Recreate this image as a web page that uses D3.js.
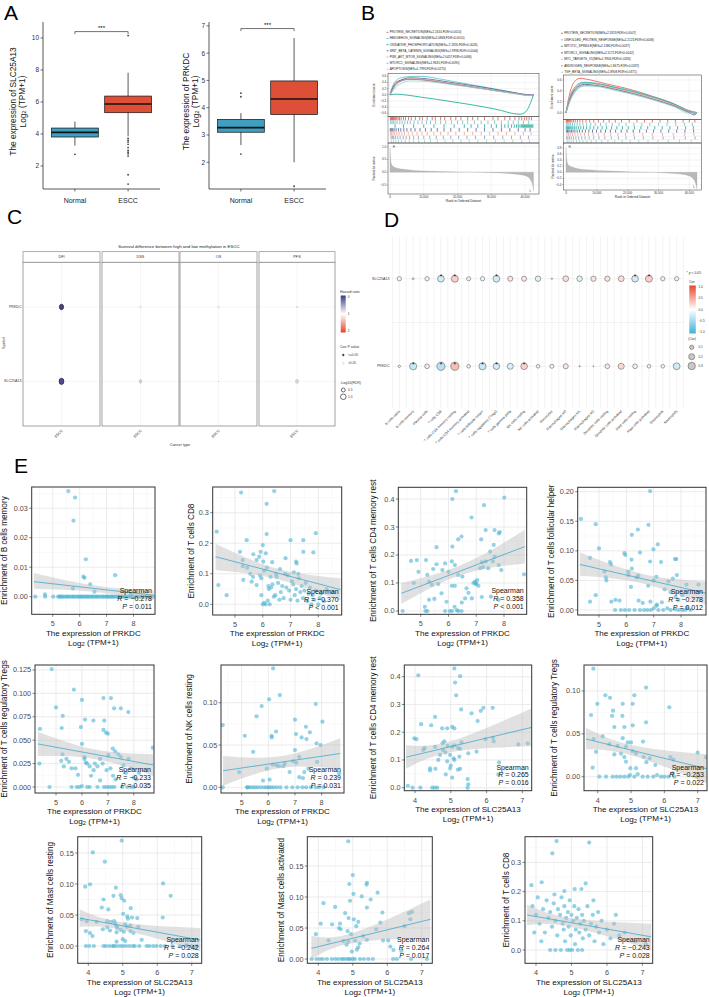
<!DOCTYPE html>
<html><head><meta charset="utf-8">
<script src="https://cdn.jsdelivr.net/npm/d3@7"></script>
<style>body{margin:0;background:#fff}svg{display:block}text{font-family:"Liberation Sans",Arial,sans-serif}</style>
</head><body><svg id="fig" width="709" height="997"></svg>
<script>
// ================= DATA =================
// ---- Panel A (boxplots) ----
const boxCats = ["Normal","ESCC"];
const slcBox = [{q1:3.81,med:4.10,q3:4.37,lo:3.27,hi:4.77},{q1:5.33,med:5.87,q3:6.37,lo:3.85,hi:7.83}];
const slcOut = [[2.73],[10.15,3.72,3.6,3.5,3.35,3.15,2.97,2.86,2.76,2.62,1.45,0.87]];
const prkBox = [{q1:3.10,med:3.27,q3:3.57,lo:2.63,hi:3.80},{q1:3.75,med:4.32,q3:4.98,lo:2.0,hi:6.55}];
const prkOut = [[4.53,4.40,2.30],[1.12]];
const slcTicks = [2,4,6,8,10];
const prkTicks = [2,3,4,5,6,7];
const sigLabel = ["***","***"];
const sigLevel = [10.4,6.9];

// ---- Panel B (GSEA) ----
const gseaColors = ["#E64B35","#4DBBD5","#00A087","#3C5488","#F39B7F","#8491B4","#91D1C2"];
const leftTerms = ["PROTEIN_SECRETION(NES=2.1610,FDR<0.0010)","HEDGEHOG_SIGNALING(NES=2.0868,FDR<0.0010)","OXIDATIVE_PHOSPHORYLATION(NES=-2.1926,FDR<0.0026)","WNT_BETA_CATENIN_SIGNALING(NES=1.9996,FDR<0.0044)","PI3K_AKT_MTOR_SIGNALING(NES=2.0457,FDR<0.0066)","MTORC1_SIGNALING(NES=1.9631,FDR<0.0090)","APOPTOSIS(NES=1.7993,FDR<0.0270)"];
const rightTerms = ["PROTEIN_SECRETION(NES=2.3319,FDR<0.0007)","UNFOLDED_PROTEIN_RESPONSE(NES=2.2123,FDR<0.0008)","MITOTIC_SPINDLE(NES=2.1386,FDR<0.0037)","MTORC1_SIGNALING(NES=2.1172,FDR<0.0042)","MYC_TARGETS_V1(NES=1.9903,FDR<0.0326)","ANDROGEN_RESPONSE(NES=1.8675,FDR<0.0337)","TGF_BETA_SIGNALING(NES=1.8908,FDR<0.0371)"];
const esLeft = [
 [[0,0],[1,0.3],[2.5,0.45],[5,0.5],[8,0.5],[12,0.45],[18,0.35],[25,0.24],[32,0.12],[38,0.03],[41,-0.02],[42.5,0]],
 [[0,0],[0.5,0.2],[1.5,0.42],[3,0.54],[6,0.59],[9.4,0.6],[14,0.53],[19.3,0.42],[24,0.33],[29.1,0.23],[34,0.13],[37,0.06],[40,0.01],[42.5,0]],
 [[0,0],[2,0.02],[5,-0.01],[9.4,-0.08],[14,-0.15],[19.3,-0.24],[24,-0.32],[29.1,-0.42],[33,-0.51],[36,-0.6],[38.5,-0.63],[40.2,-0.55],[41.3,-0.35],[42,-0.15],[42.5,0]],
 [[0,0],[1,0.25],[3,0.46],[6,0.55],[9,0.54],[14,0.47],[20,0.37],[26,0.27],[32,0.16],[37,0.07],[41,0.0],[42.5,0]],
 [[0,0],[1,0.2],[3,0.42],[6,0.52],[9,0.51],[14,0.44],[20,0.34],[26,0.24],[32,0.13],[37,0.05],[41,-0.01],[42.5,0]],
 [[0,0],[1,0.22],[3,0.44],[6,0.5],[10,0.48],[15,0.41],[21,0.31],[27,0.21],[33,0.11],[38,0.03],[42.5,0]],
 [[0,0],[1,0.15],[3,0.35],[6,0.45],[10,0.44],[15,0.38],[21,0.29],[27,0.2],[33,0.1],[38,0.02],[41,-0.03],[42.5,0]]
];
const esRight = [
 [[0,0],[1,0.3],[2.5,0.55],[4.5,0.63],[8,0.6],[13,0.53],[20,0.44],[27,0.32],[33,0.2],[38,0.08],[41,0.0],[42,-0.02],[42.5,0]],
 [[0,0],[1,0.25],[3,0.48],[5.5,0.56],[9,0.55],[15,0.48],[21,0.41],[28,0.3],[34,0.19],[39,0.06],[42.5,0]],
 [[0,0],[1,0.22],[3,0.45],[6,0.55],[10,0.53],[16,0.46],[22,0.38],[29,0.27],[35,0.16],[40,0.03],[42.5,0]],
 [[0,0],[1,0.2],[3,0.43],[6,0.52],[10,0.5],[16,0.43],[22,0.35],[29,0.24],[35,0.13],[40,0.0],[41.5,-0.04],[42.5,0]],
 [[0,0],[1,0.24],[3,0.47],[5,0.54],[9,0.53],[15,0.46],[21,0.38],[28,0.28],[34,0.17],[39,0.05],[42.5,0]],
 [[0,0],[1,0.18],[3,0.4],[6,0.5],[10,0.49],[16,0.42],[22,0.34],[29,0.23],[35,0.12],[40,0.01],[42.5,0]],
 [[0,0],[1,0.17],[3,0.38],[6,0.49],[10,0.48],[16,0.41],[22,0.33],[29,0.22],[35,0.11],[40,-0.01],[42.5,0]]
];
const hitsLeft = [
 [0.1,0.3,0.5,0.7,0.9,1.1,1.4,1.7,2.0,2.4,2.8,3.3,4.0,4.6,5.5,6.3,7.5,8.8,9.6,11,12.5,13.4,15,16.2,18,19.5,21,23,24.5,26,28,30.5,32,34,35.5,37,38.2,39,39.8,40.5,41.2,41.9],
 [0.2,0.6,1.0,1.5,2.1,2.9,3.6,4.4,5.2,6.0,7.1,8.3,9.5,10.8,12,13.5,15,16.5,18.2,20,21.5,23,25,27,29,31,33,35,36.5,38,39.5,41],
 [1.5,4,7,10,13,16,19,22,24,26,28,30,31.5,33,34,35,36,36.8,37.5,38,38.5,39,39.3,39.6,39.9,40.2,40.5,40.8,41.1,41.4,41.7,42,42.3],
 [0.1,0.4,0.8,1.2,1.8,2.5,3.2,4.1,5,6.2,7.4,8.9,10.5,12.2,14,16,18,20.5,23,25.5,28,30.5,33,35.5,38,40,41.5],
 [0.2,0.5,0.9,1.4,2.0,2.7,3.5,4.3,5.4,6.6,8,9.5,11,13,15,17.2,19.5,22,24.5,27,29.5,32,34.5,37,39.5,41.8],
 [0.3,0.7,1.1,1.6,2.3,3.0,3.9,4.8,5.8,7,8.4,10,11.8,13.7,15.8,18,20.3,22.8,25.3,28,30.7,33.4,36,38.6,41],
 [0.4,1.0,1.7,2.5,3.4,4.5,5.7,7,8.5,10.2,12,14,16.3,18.6,21,23.5,26,28.6,31.2,33.8,36.4,39,41.3]
];
const hitsRight = [
 [0.1,0.3,0.5,0.8,1.1,1.5,1.9,2.4,3.0,3.7,4.5,5.4,6.5,7.7,9,10.5,12.2,14,16,18,20.5,23,25.5,28,30.5,33,35.5,38,40,41.8],
 [0.2,0.6,1.0,1.5,2.1,2.8,3.6,4.5,5.5,6.7,8,9.5,11.2,13,15,17.2,19.5,22,24.6,27.2,30,32.8,35.6,38.4,41],
 [0.1,0.4,0.7,1.0,1.3,1.7,2.2,2.7,3.3,4.0,4.8,5.7,6.7,7.8,9,10.3,11.7,13.2,14.8,16.5,18.3,20.2,22.2,24.3,26.5,28.8,31.2,33.7,36.2,38.8,41.3],
 [0.2,0.5,0.9,1.3,1.8,2.3,2.9,3.6,4.4,5.3,6.3,7.4,8.6,9.9,11.3,12.8,14.4,16.1,17.9,19.8,21.8,23.9,26.1,28.4,30.8,33.3,35.9,38.6,41.4],
 [0.3,0.8,1.4,2.1,2.9,3.8,4.8,6,7.3,8.8,10.5,12.4,14.5,16.8,19.3,22,24.9,28,31.3,34.8,38.5,41.5],
 [0.2,0.6,1.1,1.7,2.4,3.2,4.1,5.1,6.2,7.5,9,10.7,12.6,14.7,17,19.5,22.2,25.1,28.2,31.5,35,38.7,41.9],
 [0.4,1.0,1.7,2.5,3.4,4.4,5.5,6.8,8.2,9.8,11.6,13.6,15.8,18.2,20.8,23.6,26.6,29.8,33.2,36.8,40.6]
];
const metricLeft = [[0,0.95],[0.2,0.5],[0.5,0.3],[1,0.22],[2,0.16],[4,0.11],[7,0.07],[10,0.05],[15,0.03],[20,0.01],[25,0],[30,-0.02],[35,-0.05],[38,-0.09],[40,-0.14],[41,-0.2],[41.8,-0.35],[42.3,-0.55],[42.5,-0.75]];
const metricRight = [[0,0.8],[0.2,0.45],[0.5,0.3],[1,0.22],[2,0.17],[4,0.12],[7,0.08],[10,0.06],[15,0.04],[20,0.02],[25,0.01],[30,-0.01],[35,-0.04],[38,-0.07],[40,-0.12],[41,-0.18],[41.8,-0.3],[42.3,-0.45],[42.5,-0.55]];
const rankTicks = [0,10,20,30,40];
const rankTickLabels = ["0","10,000","20,000","30,000","40,000"];
const esTicksLeft = [-0.6,-0.4,-0.2,0,0.2,0.4,0.6];
const esTicksRight = [0,0.2,0.4,0.6];
const metricTicksLeft = [-0.5,0,0.5,1.0];
const metricTicksRight = [-0.4,-0.2,0,0.2,0.4,0.6,0.8];

// ---- Panel C (survival bubble) ----
const cFacets = ["DFI","DSS","OS","PFS"];
const cGenes = ["PRKDC","SLC25A13"];
const cHR = [[0.05,0.08],[0.95,0.75],[1.0,0.92],[0.9,0.78]];
const cLogFDR = [[1.0,1.3],[0.12,0.5],[0.2,0.03],[0.08,0.6]];
const cSig = [[1,1],[0,0],[0,0],[0,0]];
const cHRTicks = [0,1,2];
const cSizeTicks = [0.5,1.0];

// ---- Panel D (immune correlation bubble) ----
const dCells = ["B cells naive","B cells memory","Plasma cells","T cells CD8","T cells CD4 memory resting","T cells CD4 memory activated","T cells follicular helper","T cells regulatory (Tregs)","T cells gamma delta","NK cells resting","NK cells activated","Monocytes","Macrophages M0","Macrophages M1","Macrophages M2","Dendritic cells resting","Dendritic cells activated","Mast cells resting","Mast cells activated","Eosinophils","Neutrophils"];
const dGenes = ["SLC25A13","PRKDC"];
const dCorSLC = [-0.1,0.02,0.1,-0.243,0.265,0.09,-0.1,-0.253,0.14,0.14,-0.16,0.01,0.18,-0.16,0.15,0.15,0.18,-0.242,0.264,0.1,0.1];
const dCorPRK = [0.03,-0.278,0.12,-0.370,0.358,0.07,-0.278,-0.233,-0.2,0.239,0.07,0.09,0.14,0.01,0.005,0.12,0.2,-0.12,0.07,0.07,-0.25];
const dStarSLC = [0,0,0,1,1,0,0,1,0,0,0,0,0,0,0,0,0,1,1,0,0];
const dStarPRK = [0,1,0,1,1,0,1,1,0,1,0,0,0,0,0,0,0,0,0,0,0];
const dCorTicks = [1.0,0.5,0.0,-0.5,-1.0];
const dSizeTicks = [0.1,0.2,0.3];

// ---- Panel E (scatter plots) ----
const eCells = ["B cells memory","T cells CD8","T cells CD4 memory rest","T cells follicular helper","T cells regulatory Tregs","NK cells resting","T cells CD4 memory rest","T cells regulatory Tregs","Mast cells resting","Mast cells activated","T cells CD8"];
const eGenes = ["PRKDC","PRKDC","PRKDC","PRKDC","PRKDC","PRKDC","SLC25A13","SLC25A13","SLC25A13","SLC25A13","SLC25A13"];
const eR = ["\u22120.278","\u22120.370","0.358","\u22120.278","\u22120.233","0.239","0.265","\u22120.253","\u22120.242","0.264","\u22120.243"];
const eP = ["= 0.011","< 0.001","< 0.001","= 0.012","= 0.035","= 0.031","= 0.016","= 0.022","= 0.028","= 0.017","= 0.028"];
const eXTicks = [[5,6,7,8],[5,6,7,8],[5,6,7,8],[5,6,7,8],[5,6,7,8],[5,6,7,8],[4,5,6,7],[4,5,6,7],[4,5,6,7],[4,5,6,7],[4,5,6,7]];
const eYTicks = [[0,0.01,0.02,0.03],[0,0.1,0.2,0.3],[0,0.1,0.2,0.3,0.4],[0,0.05,0.1,0.15,0.2],[0,0.025,0.05,0.075,0.1,0.125],[0,0.05,0.1],[0,0.1,0.2,0.3,0.4],[0,0.05,0.1],[0,0.05,0.1,0.15],[0,0.05,0.1,0.15],[0,0.1,0.2,0.3]];
const eYDigits = [2,1,1,2,3,2,1,2,2,2,1];

const bMemPRKDC = [[5.58,0.0358],[5.83,0.0336],[5.77,0.0258],[6.23,0.0127],[6.14,0.0068],[6.18,0.0064],[6.39,0.0042],[5.75,0.0028],[6.55,0.0017],[7.32,0.0073],[4.71,0.0008],[7.9,0.0008],
 [4.35,0],[4.72,0],[5.02,0],[5.2,0],[5.25,0],[5.3,0],[5.36,0],[5.42,0],[5.5,0],[5.56,0],[5.62,0],[5.7,0],[5.76,0],[5.82,0],[5.9,0],[5.96,0],[6.02,0],[6.08,0],[6.13,0],[6.2,0],[6.26,0],[6.31,0],[6.38,0],[6.45,0],[6.5,0],[6.58,0],[6.64,0],[6.7,0],[6.78,0],[6.85,0],[6.9,0],[6.98,0],[7.03,0],[7.08,0],[7.15,0],[7.2,0],[7.26,0],[7.32,0],[7.4,0],[7.46,0],[7.52,0],[7.6,0],[7.66,0],[7.72,0],[7.8,0],[7.88,0],[7.95,0],[8.02,0],[8.1,0],[8.18,0],[8.25,0],[8.32,0],[8.4,0],[8.5,0],[8.62,0],[8.72,0]];
const cd8PRKDC = [[4.34,0.238],[5.22,0.366],[6.14,0.329],[6.41,0.371],[5.42,0.21],[6.14,0.23],[6.0,0.194],[7.0,0.21],[7.46,0.21],[7.91,0.233],
 [5.18,0.172],[5.28,0.145],[5.28,0.125],[5.44,0.12],[5.66,0.164],[5.78,0.145],[5.87,0.156],[5.92,0.172],[6.11,0.167],[6.34,0.138],[6.82,0.151],[7.22,0.134],[7.2,0.14],[7.46,0.172],[7.82,0.17],
 [4.4,0.063],[4.7,0.03],[5.3,0.08],[5.6,0.074],[5.78,0.063],[5.9,0.094],[5.95,0.085],[6.05,0.11],[6.15,0.12],[6.2,0.06],[6.22,0.05],[6.3,0.055],[6.35,0.065],[6.4,0.025],[6.45,0.03],[6.5,0.09],[6.55,0.07],[6.6,0.015],[6.65,0.04],[6.7,0.06],[6.75,0.02],[6.8,0.1],[6.85,0.055],[6.9,0.095],[6.95,0.045],[7.0,0.015],[7.05,0.075],[7.1,0.065],[7.15,0.03],[7.2,0.05],[7.25,0.012],[7.3,0.085],[7.35,0.04],[7.4,0.06],[7.45,0.02],[7.5,0.045],[7.55,0.07],[7.6,0.01],[7.65,0.035],[7.7,0.055],[7.75,0.0],[7.8,0.03],[7.85,0.015],[7.9,0.045],[8.0,0.0],[8.05,0.02],[8.1,0.035],[8.2,0.01],[8.3,0.05],[8.5,0.04],[6.0,0.0],[6.05,0.005],[6.1,0.0],[6.18,0.012],[6.25,0.0],[5.95,0.03],[6.28,0.09],[6.48,0.1],[6.62,0.115],[7.12,0.105],[7.28,0.1],[6.02,0.14],[5.55,0.1],[5.65,0.09]];
const cd4PRKDC = [[6.27,0.428],[6.14,0.4],[8.01,0.405],[7.28,0.378],[6.83,0.334],[7.34,0.289],[7.66,0.289],[7.81,0.277],[7.85,0.282],[7.18,0.256],[6.47,0.266],[6.35,0.256],[5.57,0.228],[6.14,0.23],[7.63,0.236],
 [4.65,0.179],[4.86,0.182],[5.19,0.182],[4.92,0.14],[5.24,0.129],[5.45,0.15],[5.57,0.167],[5.78,0.146],[5.88,0.17],[6.0,0.14],[6.12,0.177],[6.23,0.164],[6.35,0.129],[6.5,0.123],[6.12,0.09],[6.23,0.09],[5.63,0.096],[5.75,0.063],[5.4,0.093],[5.49,0.043],[5.15,0.015],[5.24,0.0],[5.17,0.0],[4.35,0.0],[5.3,0.04],[5.93,0.033],[6.05,0.0],[6.13,0.0],[6.22,0.015],[6.3,0.003],[6.35,0.0],[6.48,0.03],[6.65,0.081],[6.72,0.065],[6.84,0.045],[6.95,0.104],[6.98,0.096],[7.03,0.11],[7.08,0.09],[7.14,0.153],[7.2,0.174],[7.25,0.157],[7.34,0.177],[7.43,0.153],[7.5,0.212],[7.6,0.177],[7.66,0.193],[7.81,0.164],[7.9,0.146],[7.53,0.051],[7.81,0.04],[8.72,0.131],[7.2,0.05],[6.6,0.045],[5.88,0.0],[6.47,0.0],[6.9,0.1],[7.0,0.098],[5.3,0.105],[4.75,0.1]];
const tfhPRKDC = [[6.87,0.201],[4.34,0.154],[4.88,0.145],[6.81,0.144],[6.42,0.136],[6.2,0.127],[7.15,0.111],[6.99,0.1025],[5.0,0.104],
 [4.67,0.088],[5.93,0.096],[5.96,0.093],[6.5,0.097],[6.87,0.082],[7.27,0.081],[7.78,0.086],[7.83,0.086],[5.4,0.081],[5.44,0.077],[5.2,0.065],[5.25,0.055],[5.27,0.05],[6.07,0.065],[6.08,0.059],[6.19,0.085],[6.2,0.07],[6.38,0.055],[6.44,0.058],[6.17,0.039],[6.8,0.041],[7.0,0.05],[7.1,0.056],[7.54,0.048],[7.7,0.053],[7.85,0.059],[7.4,0.035],[7.62,0.03],[7.8,0.022],[7.9,0.017],[8.05,0.025],[8.2,0.043],[8.64,0.043],[4.88,0.025],[4.67,0.014],[5.45,0.014],[5.6,0.017],[5.75,0.016],[6.45,0.016],[6.6,0.012],[6.88,0.014],[7.12,0.009],[7.3,0.013],
 [5.59,0],[5.8,0],[5.95,0],[6.1,0],[6.3,0],[6.5,0],[6.65,0],[6.77,0],[6.9,0],[7.0,0.003],[7.1,0.007],[7.17,0],[7.35,0],[7.5,0.003],[7.62,0],[7.8,0.001],[7.92,0],[8.05,0],[8.15,0],[8.22,0.004],[8.35,0]];
const tregPRKDC = [[4.83,0.126],[5.69,0.104],[5.0,0.085],[5.26,0.076],[6.0,0.093],[6.83,0.095],[7.12,0.095],[7.24,0.084],[7.5,0.084],[7.79,0.08],[6.12,0.072],[6.44,0.071],[6.86,0.071],[5.22,0.063],[5.96,0.064],[4.38,0.062],[6.83,0.061],[6.93,0.058],[7.0,0.057],[7.19,0.041],[7.28,0.038],[7.02,0.034],[8.73,0.042],[4.36,0.025],
 [5.25,0.035],[5.2,0.028],[5.4,0.03],[5.3,0.022],[5.5,0.027],[5.6,0.02],[5.75,0.02],[5.85,0.013],[6.0,0.046],[6.1,0.032],[6.15,0.026],[6.2,0.025],[6.3,0.022],[6.35,0.012],[6.45,0.018],[6.5,0.025],[6.6,0.022],[6.7,0.007],[6.8,0.025],[6.95,0.018],[7.1,0.02],[7.2,0.012],[7.3,0.008],[7.4,0.035],[7.5,0.032],[7.6,0.023],[7.7,0.015],[7.8,0.03],[7.9,0.02],[8.0,0.01],[8.1,0.008],[8.2,0.015],
 [4.75,0],[5.6,0],[5.8,0],[5.9,0],[6.0,0.001],[6.2,0],[6.3,0],[6.6,0],[6.85,0],[6.95,0],[7.05,0],[7.15,0],[7.25,0],[7.55,0],[7.75,0],[7.9,0],[8.0,0],[6.1,0.03],[6.7,0.03]];
const nkPRKDC = [[6.18,0.1406],[6.43,0.109],[6.03,0.104],[5.75,0.096],[5.56,0.084],[7.78,0.0985],[7.0,0.08],[7.41,0.0716],[8.03,0.0776],[4.29,0.0736],
 [5.12,0.061],[6.12,0.061],[6.13,0.059],[6.29,0.066],[7.04,0.063],[7.25,0.059],[7.43,0.057],[7.56,0.065],[7.81,0.052],[7.96,0.05],[7.0,0.044],[5.43,0.042],[7.16,0.036],[6.93,0.031],[7.05,0.029],[6.62,0.028],[6.16,0.027],[6.3,0.026],[6.4,0.025],[5.94,0.022],[4.91,0.018],[6.8,0.018],[7.35,0.018],[7.5,0.022],[7.83,0.03],[8.66,0.0165],[6.56,0.025],[7.16,0.012],[7.3,0.011],[6.05,0.009],[5.8,0.008],
 [4.29,0],[5.2,0],[5.22,0],[5.3,0],[5.4,0],[5.5,0],[5.6,0],[5.72,0],[5.84,0],[5.94,0],[6.02,0],[6.1,0],[6.2,0],[6.32,0],[6.45,0],[6.68,0],[6.9,0],[7.1,0],[7.28,0],[7.42,0],[7.6,0],[7.78,0],[7.9,0],[8.08,0]];
const cd4SLC = [[4.09,0.405],[5.1,0.43],[5.12,0.379],[5.15,0.333],[5.26,0.402],[5.29,0.282],[5.58,0.268],[5.84,0.277],[5.91,0.288],[6.17,0.288],[5.75,0.24],[4.56,0.255],[4.17,0.229],[4.45,0.225],[4.76,0.214],[4.9,0.214],[5.04,0.219],[5.1,0.214],
 [3.98,0.178],[4.04,0.175],[4.23,0.136],[4.27,0.143],[4.56,0.147],[4.77,0.16],[4.82,0.167],[4.91,0.151],[5.04,0.147],[5.1,0.153],[5.2,0.143],[5.3,0.163],[4.78,0.136],[4.85,0.127],[4.65,0.1],[4.7,0.118],[4.98,0.118],[5.08,0.106],[5.1,0.1],[5.24,0.112],[5.26,0.14],[5.49,0.124],[5.72,0.13],[5.97,0.175],[6.18,0.18],[6.2,0.167],[4.42,0.07],[4.42,0.062],[4.57,0.068],[4.86,0.048],[4.98,0.07],[5.04,0.036],[5.2,0.065],[5.26,0.068],[5.47,0.031],[5.49,0.012],[6.35,0.091],[6.33,0.048],[6.89,0.156],[7.15,0.16],[3.8,0.007],[3.93,0.0],[4.15,0],[4.48,0],[4.55,0],[4.62,0],[5.47,0],[5.0,0.08],[4.9,0.095]];
const tregSLC = [[3.87,0.126],[4.23,0.095],[4.37,0.092],[3.99,0.085],[3.8,0.072],[4.46,0.077],[4.75,0.085],[5.05,0.085],[5.1,0.095],[5.45,0.104],[6.15,0.081],[4.43,0.071],[4.74,0.071],[4.5,0.058],[4.8,0.058],[5.05,0.06],[5.45,0.0635],
 [3.88,0.044],[3.95,0.029],[3.85,0.0105],[4.15,0.047],[4.35,0.038],[4.6,0.036],[4.75,0.045],[4.5,0.026],[4.7,0.027],[4.8,0.023],[4.85,0.035],[4.9,0.04],[5.0,0.04],[5.05,0.03],[5.15,0.027],[5.36,0.041],[5.38,0.023],[5.56,0.0215],[5.46,0.017],[4.85,0.0175],[4.98,0.01],[5.15,0.01],[5.73,0.0137],[6.18,0.023],[6.27,0.02],[7.0,0.028],[7.25,0.0226],
 [4.05,0],[4.25,0],[4.45,0],[4.57,0],[4.68,0],[4.8,0],[4.92,0],[4.97,0.002],[5.1,0],[5.2,0.003],[5.35,0],[5.5,0],[5.67,0],[5.78,0.002],[5.9,0],[6.0,0],[6.12,0],[6.25,0.004],[6.3,0],[7.0,0]];
const mastRestSLC = [[4.97,0.17],[4.13,0.151],[4.48,0.136],[4.05,0.0995],[3.91,0.0957],[4.8,0.094],[6.17,0.101],[6.39,0.081],[4.44,0.075],[4.73,0.081],[4.94,0.082],[4.97,0.077],[5.04,0.073],[4.39,0.062],[4.58,0.059],[5.01,0.052],[5.23,0.061],[5.13,0.048],[5.15,0.044],[5.27,0.046],[5.42,0.045],[3.81,0.043],[3.95,0.04],[4.24,0.039],[4.55,0.04],[4.66,0.039],[4.75,0.04],[4.78,0.036],[4.82,0.032],[5.07,0.035],[5.12,0.031],[5.22,0.033],[5.45,0.031],[4.55,0.03],[4.84,0.029],[4.42,0.027],[4.94,0.026],[4.63,0.025],[5.03,0.023],[4.82,0.022],[3.93,0.024],[4.05,0.021],[4.12,0.016],[5.22,0.024],[5.31,0.021],[5.0,0.011],[5.07,0.008],[4.82,0.007],[5.55,0.01],[6.16,0.046],[6.85,0.0016],
 [3.93,0],[4.03,0],[4.16,0],[4.44,0],[4.51,0],[4.61,0],[4.71,0],[4.74,0],[4.82,0],[4.92,0],[5.0,0],[5.09,0],[5.19,0],[5.29,0],[5.35,0],[5.48,0],[5.69,0],[5.77,0],[5.88,0],[5.98,0],[6.1,0],[6.22,0],[6.44,0],[6.66,0],[6.85,0],[7.0,0],[7.14,0]];
const mastActSLC = [[4.87,0.19],[5.0,0.1355],[4.9,0.121],[5.41,0.123],[5.4,0.12],[5.02,0.105],[5.26,0.101],[5.72,0.107],[5.52,0.096],[4.92,0.094],[4.49,0.084],[5.41,0.083],[4.88,0.066],[5.03,0.064],[5.16,0.06],[5.1,0.053],[4.78,0.074],[4.63,0.057],[4.65,0.048],[4.85,0.045],[4.95,0.04],[5.3,0.037],[5.07,0.0295],[5.2,0.025],[5.41,0.031],[5.8,0.0586],[5.86,0.075],[5.88,0.03],[6.09,0.02],[5.68,0.048],[4.15,0.09],[3.93,0.04],[4.07,0.057],[4.4,0.056],[4.6,0.05],[4.87,0.028],[4.73,0.029],[4.3,0.03],[4.82,0.023],[4.97,0.012],[5.12,0.015],[5.16,0.019],[6.18,0.0145],[6.03,0.03],[6.67,0.064],[6.5,0.053],[6.63,0.074],[6.72,0.076],[6.41,0.013],
 [3.81,0],[3.95,0],[4.05,0],[4.13,0],[4.25,0],[4.39,0],[4.49,0],[4.58,0],[4.68,0],[4.73,0],[4.81,0],[4.88,0],[4.92,0],[5.0,0],[5.06,0],[5.21,0],[5.32,0],[5.45,0],[5.58,0],[6.17,0],[6.28,0],[6.69,0],[7.15,0]];
const cd8SLC = [[4.58,0.373],[5.5,0.368],[4.46,0.331],[3.87,0.222],[4.16,0.232],[5.4,0.228],[5.09,0.209],[5.28,0.209],[4.8,0.202],
 [3.9,0.15],[4.0,0.12],[4.05,0.18],[4.1,0.09],[4.2,0.14],[4.25,0.06],[4.3,0.17],[4.35,0.11],[4.4,0.13],[4.45,0.08],[4.5,0.16],[4.52,0.19],[4.55,0.1],[4.6,0.05],[4.62,0.14],[4.68,0.12],[4.7,0.0],[4.72,0.18],[4.75,0.09],[4.78,0.07],[4.8,0.15],[4.82,0.03],[4.85,0.11],[4.88,0.0],[4.9,0.13],[4.92,0.08],[4.95,0.17],[4.98,0.05],[5.0,0.12],[5.02,0.0],[5.05,0.1],[5.08,0.15],[5.1,0.02],[5.12,0.07],[5.15,0.11],[5.18,0.0],[5.2,0.14],[5.22,0.06],[5.25,0.09],[5.3,0.12],[5.32,0.04],[5.35,0.1],[5.4,0.07],[5.45,0.15],[5.5,0.05],[5.55,0.09],[5.6,0.12],[5.65,0.03],[5.7,0.08],[5.78,0.06],[5.85,0.1],[5.9,0.02],[6.0,0.07],[6.1,0.04],[6.2,0.09],[6.35,0.05],[6.5,0.06],[6.8,0.03],[7.1,0.02],[4.4,0.0],[4.55,0.0],[4.95,0.0],[5.3,0.0],[3.95,0.06],[4.15,0.03],[5.62,0.17],[5.75,0.13],[6.25,0.12]];
const eData = [bMemPRKDC,cd8PRKDC,cd4PRKDC,tfhPRKDC,tregPRKDC,nkPRKDC,cd4SLC,tregSLC,mastRestSLC,mastActSLC,cd8SLC];
// regression fit with confidence band: [x, fit, lower, upper]
const eFit = [
 [[4.3,0.0051,0.0027,0.0080],[6.5,0.0028,0.0017,0.0039],[8.75,0.0005,-0.0012,0.0021]],
 [[4.3,0.156,0.112,0.198],[6.5,0.1,0.083,0.117],[8.8,0.048,0.012,0.085]],
 [[4.3,0.063,0.025,0.1],[6.5,0.148,0.13,0.166],[8.75,0.23,0.17,0.29]],
 [[4.3,0.077,0.058,0.097],[6.6,0.053,0.045,0.061],[8.95,0.028,0.008,0.048]],
 [[4.3,0.046,0.033,0.059],[6.5,0.035,0.03,0.04],[8.75,0.0235,0.012,0.035]],
 [[4.3,0.0196,0.002,0.037],[6.5,0.03,0.023,0.037],[8.7,0.04,0.022,0.058]],
 [[3.75,0.11,0.068,0.153],[5.0,0.148,0.128,0.168],[7.25,0.217,0.15,0.285]],
 [[3.65,0.044,0.032,0.057],[5.0,0.031,0.025,0.037],[7.3,0.009,-0.008,0.026]],
 [[3.75,0.045,0.031,0.059],[5.0,0.032,0.026,0.038],[7.25,0.0097,-0.009,0.029]],
 [[3.8,0.0172,0.0,0.037],[5.0,0.034,0.026,0.042],[7.25,0.064,0.033,0.096]],
 [[3.75,0.12,0.085,0.155],[5.0,0.094,0.079,0.109],[7.25,0.045,0.0,0.09]]
];

// ================= LAYOUT =================
const svg = d3.select("#fig");
const SERIF = '"Liberation Serif","Times New Roman",serif';
function T(g,x,y,s,o={}){
  const t=g.append("text").attr("x",x).attr("y",y).text(s)
   .attr("font-size",o.size||7).attr("fill",o.fill||"#000")
   .attr("text-anchor",o.anchor||"start");
  if(o.db) t.attr("dominant-baseline",o.db);
  if(o.family) t.attr("font-family",o.family);
  if(o.rot!==undefined) t.attr("transform",`rotate(${o.rot},${x},${y})`);
  if(o.style) t.attr("font-style",o.style);
  return t;
}
function log2(t){
  t.append("tspan").text("Log");
  t.append("tspan").attr("font-size","0.72em").attr("dy","0.3em").text("2");
  t.append("tspan").attr("dy","-0.3em").text(" (TPM+1)");
}
// panel letters
[["A",4,20],["B",361,20],["C",7,224],["D",384,227],["E",14,473]].forEach(d=>T(svg,d[1],d[2],d[0],{size:21}));

// ================= PANEL A =================
function boxPlot(L, stats, outs, ticks, yDom, gene, k){
  const g=svg.append("g");
  const x=d3.scalePoint().domain(boxCats).range([L.x0,L.x1]).padding(0.6);
  const y=d3.scaleLinear().domain(yDom).range([L.y1,L.y0]);
  const bw=x.step()*0.88;
  const fills=["#3E9FC2","#DD4F36"];
  boxCats.forEach((c,i)=>{
    const s=stats[i], cx=x(c);
    g.append("line").attr("x1",cx).attr("x2",cx).attr("y1",y(s.lo)).attr("y2",y(s.hi)).attr("stroke","#111").attr("stroke-width",0.7);
    g.append("rect").attr("x",cx-bw/2).attr("width",bw).attr("y",y(s.q3)).attr("height",y(s.q1)-y(s.q3)).attr("fill",fills[i]).attr("stroke","#111").attr("stroke-width",0.7);
    g.append("line").attr("x1",cx-bw/2).attr("x2",cx+bw/2).attr("y1",y(s.med)).attr("y2",y(s.med)).attr("stroke","#111").attr("stroke-width",1.6);
    outs[i].forEach(v=>g.append("circle").attr("cx",cx).attr("cy",y(v)).attr("r",0.9).attr("fill","#444"));
    T(g,cx,L.y1+11.5,c,{size:7,anchor:"middle",db:"central",fill:"#222"});
  });
  g.append("line").attr("x1",L.x0).attr("x2",L.x0).attr("y1",L.y0).attr("y2",L.y1).attr("stroke","#111").attr("stroke-width",0.7);
  g.append("line").attr("x1",L.x0).attr("x2",L.x1).attr("y1",L.y1).attr("y2",L.y1).attr("stroke","#111").attr("stroke-width",0.7);
  ticks.forEach(v=>{
    g.append("line").attr("x1",L.x0-2.5).attr("x2",L.x0).attr("y1",y(v)).attr("y2",y(v)).attr("stroke","#111").attr("stroke-width",0.6);
    T(g,L.x0-4,y(v),String(v),{size:6.5,anchor:"end",db:"central",fill:"#333"});
  });
  boxCats.forEach(c=>g.append("line").attr("x1",x(c)).attr("x2",x(c)).attr("y1",L.y1).attr("y2",L.y1+2.5).attr("stroke","#111").attr("stroke-width",0.6));
  const sy=y(sigLevel[k]);
  g.append("path").attr("d",`M${x(boxCats[0])},${sy+2.5}V${sy}H${x(boxCats[1])}V${sy+2.5}`).attr("fill","none").attr("stroke","#111").attr("stroke-width",0.6);
  T(g,(x(boxCats[0])+x(boxCats[1]))/2,sy-2,sigLabel[k],{size:6,anchor:"middle"});
  const cy=(L.y0+L.y1)/2-4;
  T(g,L.tx,cy,"The expression of "+gene,{size:8.3,anchor:"middle",db:"central",rot:-90,fill:"#111"});
  const t2=T(g,L.tx+9.5,cy,"",{size:8.3,anchor:"middle",db:"central",rot:-90,fill:"#111"}); log2(t2);
}
boxPlot({x0:43,x1:160,y0:22,y1:189,tx:13},slcBox,slcOut,slcTicks,[0.56,11.0],"SLC25A13",0);
boxPlot({x0:209,x1:326,y0:22,y1:189,tx:186},prkBox,prkOut,prkTicks,[1.02,7.14],"PRKDC",1);

// ================= PANEL B =================
function gsea(L, terms, es, hits, metric, esTicks, mTicks){
  const g=svg.append("g");
  const x=d3.scaleLinear().domain([0,42.5]).range([L.r0,L.r1]);
  const yE=d3.scaleLinear().domain(L.esDom).range(L.esRange);
  const yM=d3.scaleLinear().domain(L.mDom).range(L.mRange);
  const fmt=d3.format(".1f");
  terms.forEach((t,i)=>{
    const yy=L.legY+i*L.legStep;
    g.append("line").attr("x1",L.legX).attr("x2",L.legX+2).attr("y1",yy).attr("y2",yy).attr("stroke",gseaColors[i]).attr("stroke-width",0.8);
    T(g,L.legX+3.2,yy,t,{size:3.1,db:"central",family:SERIF,fill:"#222"});
  });
  const cid="gclip"+L.id;
  svg.append("clipPath").attr("id",cid).append("rect").attr("x",L.x0).attr("y",L.esY0).attr("width",L.x1-L.x0).attr("height",L.esY1-L.esY0);
  g.append("rect").attr("x",L.x0).attr("y",L.esY0).attr("width",L.x1-L.x0).attr("height",L.esY1-L.esY0).attr("fill","#fff");
  esTicks.forEach(v=>g.append("line").attr("x1",L.x0).attr("x2",L.x1).attr("y1",yE(v)).attr("y2",yE(v)).attr("stroke","#e6e6e6").attr("stroke-width",0.4));
  rankTicks.forEach(v=>g.append("line").attr("x1",x(v)).attr("x2",x(v)).attr("y1",L.esY0).attr("y2",L.esY1).attr("stroke","#e6e6e6").attr("stroke-width",0.4));
  const line=d3.line().x(d=>x(d[0])).y(d=>yE(d[1])).curve(d3.curveMonotoneX);
  const cg=g.append("g").attr("clip-path",`url(#${cid})`);
  es.forEach((c,i)=>cg.append("path").attr("d",line(c)).attr("fill","none").attr("stroke",gseaColors[i]).attr("stroke-width",0.75));
  g.append("rect").attr("x",L.x0).attr("y",L.esY0).attr("width",L.x1-L.x0).attr("height",L.esY1-L.esY0).attr("fill","none").attr("stroke","#333").attr("stroke-width",0.5);
  esTicks.forEach(v=>{
    g.append("line").attr("x1",L.x0-1.2).attr("x2",L.x0).attr("y1",yE(v)).attr("y2",yE(v)).attr("stroke","#333").attr("stroke-width",0.3);
    T(g,L.x0-1.8,yE(v),fmt(v),{size:3,anchor:"end",db:"central",fill:"#333"});
  });
  T(g,L.ytx,(L.esY0+L.esY1)/2,"Enrichment score",{size:3,anchor:"middle",db:"central",rot:-90,fill:"#333"});
  const rh=(L.hY1-L.esY1)/hits.length;
  hits.forEach((h,i)=>{
    const y0=L.esY1+i*rh;
    h.forEach(v=>g.append("line").attr("x1",x(v)).attr("x2",x(v)).attr("y1",y0+0.2).attr("y2",y0+rh-0.2).attr("stroke",gseaColors[i]).attr("stroke-width",0.75));
    g.append("line").attr("x1",L.x0).attr("x2",L.x1).attr("y1",y0+rh).attr("y2",y0+rh).attr("stroke","#cfcfcf").attr("stroke-width",0.25);
  });
  g.append("rect").attr("x",L.x0).attr("y",L.esY1).attr("width",L.x1-L.x0).attr("height",L.hY1-L.esY1).attr("fill","none").attr("stroke","#333").attr("stroke-width",0.4);
  mTicks.forEach(v=>g.append("line").attr("x1",L.x0).attr("x2",L.x1).attr("y1",yM(v)).attr("y2",yM(v)).attr("stroke","#e6e6e6").attr("stroke-width",0.4));
  rankTicks.forEach(v=>g.append("line").attr("x1",x(v)).attr("x2",x(v)).attr("y1",L.hY1).attr("y2",L.mY1).attr("stroke","#e6e6e6").attr("stroke-width",0.4));
  const area=d3.area().x(d=>x(d[0])).y0(yM(0)).y1(d=>yM(d[1])).curve(d3.curveMonotoneX);
  g.append("path").attr("d",area(metric)).attr("fill","#b8b8b8").attr("stroke","#9a9a9a").attr("stroke-width",0.2);
  g.append("rect").attr("x",L.x0).attr("y",L.hY1).attr("width",L.x1-L.x0).attr("height",L.mY1-L.hY1).attr("fill","none").attr("stroke","#333").attr("stroke-width",0.5);
  mTicks.forEach(v=>{
    g.append("line").attr("x1",L.x0-1.2).attr("x2",L.x0).attr("y1",yM(v)).attr("y2",yM(v)).attr("stroke","#333").attr("stroke-width",0.3);
    T(g,L.x0-1.8,yM(v),fmt(v),{size:3,anchor:"end",db:"central",fill:"#333"});
  });
  T(g,L.ytx,(L.hY1+L.mY1)/2,"Ranked list metric",{size:3,anchor:"middle",db:"central",rot:-90,fill:"#333"});
  T(g,x(0.8),L.hY1+4,"H",{size:3,db:"central",fill:"#333"});
  T(g,x(41.8),L.mY1-3,"L",{size:3,anchor:"end",db:"central",fill:"#333"});
  rankTicks.forEach((v,i)=>{
    g.append("line").attr("x1",x(v)).attr("x2",x(v)).attr("y1",L.mY1).attr("y2",L.mY1+1.2).attr("stroke","#333").attr("stroke-width",0.3);
    T(g,x(v),L.xtY,rankTickLabels[i],{size:3,anchor:"middle",db:"central",fill:"#333"});
  });
  T(g,(L.x0+L.x1)/2,L.xtY+3.8,"Rank in Ordered Dataset",{size:3.2,anchor:"middle",db:"central",fill:"#222"});
}
gsea({id:"L",x0:388,x1:539,r0:390,r1:533.5,legX:386.5,legY:32.3,legStep:6.17,esY0:73.3,esY1:116.7,esDom:[-0.6,0.6],esRange:[113.3,76.3],hY1:143,mY1:194,mDom:[-0.5,1.0],mRange:[184.9,146.7],ytx:373.5,xtY:197},leftTerms,esLeft,hitsLeft,metricLeft,esTicksLeft,metricTicksLeft);
gsea({id:"R",x0:563.3,x1:701.7,r0:566,r1:697,legX:561,legY:33.3,legStep:6.5,esY0:75,esY1:119.3,esDom:[0,0.6],esRange:[112.7,80],hY1:143,mY1:190,mDom:[-0.4,0.8],mRange:[184.5,147.9],ytx:552.5,xtY:193},rightTerms,esRight,hitsRight,metricRight,esTicksRight,metricTicksRight);

// ================= PANEL C =================
(function(){
  const g=svg.append("g");
  const facetX=[[23,100],[102,179],[180,257],[259,335]];
  const pY0=262.3,pY1=426,sY0=251.7;
  const y=d3.scalePoint().domain(cGenes).range([pY0,pY1]).padding(0.6);
  const col=d3.scaleLinear().domain([0,1,2]).range(["#3A3A8C","#ffffff","#E4432A"]);
  const size=d3.scaleSqrt().domain([0,1.5]).range([0,3.4]);
  T(g,(23+335)/2,246.7,"Survival difference between high and low methylation in ESCC",{size:4.4,anchor:"middle",db:"central",fill:"#222"});
  cFacets.forEach((f,i)=>{
    const [a,b]=facetX[i], cx=(a+b)/2;
    g.append("rect").attr("x",a).attr("y",sY0).attr("width",b-a).attr("height",pY0-sY0).attr("fill","#fff").attr("stroke","#8a8a8a").attr("stroke-width",0.7);
    T(g,cx,(sY0+pY0)/2,f,{size:3.8,anchor:"middle",db:"central",fill:"#333"});
    g.append("rect").attr("x",a).attr("y",pY0).attr("width",b-a).attr("height",pY1-pY0).attr("fill","#fff");
    cGenes.forEach(gn=>g.append("line").attr("x1",a).attr("x2",b).attr("y1",y(gn)).attr("y2",y(gn)).attr("stroke","#ececec").attr("stroke-width",0.5));
    g.append("line").attr("x1",cx).attr("x2",cx).attr("y1",pY0).attr("y2",pY1).attr("stroke","#ececec").attr("stroke-width",0.5);
    cGenes.forEach((gn,j)=>{
      const r=size(cLogFDR[i][j]);
      g.append("ellipse").attr("cx",cx).attr("cy",y(gn)).attr("rx",r*0.75).attr("ry",r)
        .attr("fill",col(cHR[i][j])).attr("stroke",cSig[i][j]?"#111":"#bdbdbd").attr("stroke-width",cSig[i][j]?0.6:0.4);
    });
    g.append("rect").attr("x",a).attr("y",pY0).attr("width",b-a).attr("height",pY1-pY0).attr("fill","none").attr("stroke","#8a8a8a").attr("stroke-width",0.8);
    T(g,cx+1.5,431,"ESCC",{size:3.6,anchor:"end",rot:-45,fill:"#333"});
  });
  cGenes.forEach(gn=>T(g,21.5,y(gn),gn,{size:3.6,anchor:"end",db:"central",fill:"#333"}));
  T(g,3.5,343,"Symbol",{size:3.6,anchor:"middle",db:"central",rot:-90,fill:"#333"});
  T(g,180,445,"Cancer type",{size:3.8,anchor:"middle",db:"central",fill:"#333"});
  const defs=svg.append("defs");
  const lg=defs.append("linearGradient").attr("id","hrGrad").attr("x1",0).attr("x2",0).attr("y1",0).attr("y2",1);
  cHRTicks.forEach(v=>lg.append("stop").attr("offset",(v/2*100)+"%").attr("stop-color",col(v)));
  T(g,340,291.5,"Hazard ratio",{size:3.6,db:"central",fill:"#333"});
  const hy=d3.scaleLinear().domain([0,2]).range([297,331]);
  g.append("rect").attr("x",340.7).attr("y",295.5).attr("width",5).attr("height",37).attr("fill","url(#hrGrad)");
  cHRTicks.forEach(v=>T(g,347.8,hy(v),String(v),{size:3.2,db:"central",fill:"#333"}));
  T(g,340,347,"Cox P value",{size:3.6,db:"central",fill:"#333"});
  g.append("circle").attr("cx",343.3).attr("cy",355).attr("r",0.9).attr("fill","#555").attr("stroke","#111").attr("stroke-width",0.4);
  T(g,348,355,"<=0.05",{size:3.2,db:"central",fill:"#333"});
  g.append("circle").attr("cx",343.3).attr("cy",363.3).attr("r",0.9).attr("fill","#fff").attr("stroke","#bbb").attr("stroke-width",0.4);
  T(g,348,363.3,">0.05",{size:3.2,db:"central",fill:"#333"});
  T(g,340,382.5,"-Log10(FDR)",{size:3.6,db:"central",fill:"#333"});
  cSizeTicks.forEach((v,i)=>{
    const yy=[390,396.8][i];
    g.append("circle").attr("cx",343.3).attr("cy",yy).attr("r",size(v)).attr("fill","#fff").attr("stroke","#111").attr("stroke-width",0.6);
    T(g,348,yy,v.toFixed(1),{size:3.2,db:"central",fill:"#333"});
  });
})();

// ================= PANEL D =================
(function(){
  const g=svg.append("g");
  const x=d3.scalePoint().domain(dCells).range([392.4,683.6]).padding(0.5);
  const y=d3.scalePoint().domain(dGenes).range([236.7,408.3]).padding(0.48);
  const col=d3.scaleLinear().domain([-1,0,1]).range(["#3DB1DA","#ffffff","#E8472E"]);
  const size=d3.scaleSqrt().domain([0,0.4]).range([0,4.3]);
  const st=x.step();
  dCells.forEach(c=>{
    [x(c)-st/2,x(c)].forEach(v=>g.append("line").attr("x1",v).attr("x2",v).attr("y1",236.7).attr("y2",408.3).attr("stroke","#e6e6e6").attr("stroke-width",0.5));
  });
  g.append("line").attr("x1",x(dCells[20])+st/2).attr("x2",x(dCells[20])+st/2).attr("y1",236.7).attr("y2",408.3).attr("stroke","#e6e6e6").attr("stroke-width",0.5);
  [y(dGenes[0]),(y(dGenes[0])+y(dGenes[1]))/2,y(dGenes[1])].forEach(v=>g.append("line").attr("x1",392.4).attr("x2",683.6).attr("y1",v).attr("y2",v).attr("stroke","#e6e6e6").attr("stroke-width",0.5));
  const rows=[[dCorSLC,dStarSLC],[dCorPRK,dStarPRK]];
  dGenes.forEach((gn,j)=>{
    const [cor,star]=rows[j];
    dCells.forEach((c,i)=>{
      g.append("circle").attr("cx",x(c)).attr("cy",y(gn)).attr("r",Math.max(size(Math.abs(cor[i])),0.4))
       .attr("fill",col(cor[i])).attr("stroke","#4a4a4a").attr("stroke-width",0.5);
      if(star[i]) T(g,x(c),y(gn)+0.6,"*",{size:6.5,anchor:"middle",fill:"#111"});
    });
    T(g,389.5,y(gn),gn,{size:3.6,anchor:"end",db:"central",fill:"#333"});
  });
  dCells.forEach(c=>T(g,x(c)+1,411.5,c,{size:3.5,anchor:"end",rot:-45,fill:"#333"}));
  T(g,686.5,273.3,"* p < 0.05",{size:3.4,db:"central",fill:"#333"});
  T(g,689,281.7,"Cor",{size:3.6,db:"central",fill:"#333"});
  const defs=svg.append("defs");
  const lg=defs.append("linearGradient").attr("id","corGrad").attr("x1",0).attr("x2",0).attr("y1",0).attr("y2",1);
  [1,0,-1].forEach((v,i)=>lg.append("stop").attr("offset",(i*50)+"%").attr("stop-color",col(v)));
  const cy=d3.scaleLinear().domain([1,-1]).range([287.3,331.7]);
  g.append("rect").attr("x",689.3).attr("y",285.5).attr("width",6.5).attr("height",48).attr("fill","url(#corGrad)");
  dCorTicks.forEach(v=>T(g,698.5,cy(v),d3.format(".1f")(v),{size:3.1,db:"central",fill:"#333"}));
  T(g,688.3,339.3,"|Cor|",{size:3.6,db:"central",fill:"#333"});
  dSizeTicks.forEach((v,i)=>{
    const yy=[347.3,356.7,366][i];
    g.append("circle").attr("cx",691.7).attr("cy",yy).attr("r",size(v)).attr("fill","#c8c8c8").attr("stroke","#4a4a4a").attr("stroke-width",0.5);
    T(g,698.5,yy,v.toFixed(1),{size:3.1,db:"central",fill:"#333"});
  });
})();

// ================= PANEL E =================
const eBox = [
 {x0:31.7,x1:155,y0:487,y1:614.3,tx:5,xd:[4.218,8.8],yd:[-0.00597,0.03719]},
 {x0:212.7,x1:341.7,y0:487,y1:615,tx:191.7,xd:[4.197,8.842],yd:[-0.035,0.3842]},
 {x0:398.3,x1:526.7,y0:487.3,y1:614.3,tx:373.3,xd:[4.193,8.817],yd:[-0.0118,0.4418]},
 {x0:577.7,x1:706,y0:487.3,y1:615,tx:551.7,xd:[4.22,8.915],yd:[-0.00845,0.2074]},
 {x0:35,x1:154,y0:665,y1:793,tx:4.5,xd:[4.189,8.78],yd:[-0.0064,0.1303]},
 {x0:221,x1:344,y0:665,y1:793,tx:189.5,xd:[4.224,8.84],yd:[-0.0067,0.1446]},
 {x0:404.3,x1:531.7,y0:665,y1:790.7,tx:374,xd:[3.70,7.262],yd:[-0.0108,0.4422]},
 {x0:584,x1:707,y0:665,y1:790.7,tx:555,xd:[3.589,7.28],yd:[-0.0163,0.1303]},
 {x0:77.7,x1:201.7,y0:836.7,y1:963.3,tx:50,xd:[3.692,7.29],yd:[-0.0279,0.1763]},
 {x0:307.3,x1:432.3,y0:836.7,y1:963.3,tx:281,xd:[3.681,7.307],yd:[-0.0069,0.1973]},
 {x0:525,x1:652.7,y0:836.7,y1:963.3,tx:506.7,xd:[3.69,7.29],yd:[-0.0455,0.388]}
];
function scatter(i){
  const L=eBox[i];
  const x=d3.scaleLinear().domain(L.xd).range([L.x0,L.x1]);
  const y=d3.scaleLinear().domain(L.yd).range([L.y1,L.y0]);
  const g=svg.append("g");
  const cid="eclip"+i;
  svg.append("clipPath").attr("id",cid).append("rect").attr("x",L.x0).attr("y",L.y0).attr("width",L.x1-L.x0).attr("height",L.y1-L.y0);
  const xt=eXTicks[i], yt=eYTicks[i], ys=yt[1]-yt[0];
  const xmin=xt.map(v=>v-0.5).concat([xt[xt.length-1]+0.5]).filter(v=>v>L.xd[0]&&v<L.xd[1]);
  const ymin=yt.map(v=>v-ys/2).concat([yt[yt.length-1]+ys/2]).filter(v=>v>L.yd[0]&&v<L.yd[1]);
  const gg=g.append("g").attr("clip-path",`url(#${cid})`);
  xmin.forEach(v=>gg.append("line").attr("x1",x(v)).attr("x2",x(v)).attr("y1",L.y0).attr("y2",L.y1).attr("stroke","#f3f3f3").attr("stroke-width",0.5));
  ymin.forEach(v=>gg.append("line").attr("x1",L.x0).attr("x2",L.x1).attr("y1",y(v)).attr("y2",y(v)).attr("stroke","#f3f3f3").attr("stroke-width",0.5));
  xt.forEach(v=>gg.append("line").attr("x1",x(v)).attr("x2",x(v)).attr("y1",L.y0).attr("y2",L.y1).attr("stroke","#e6e6e6").attr("stroke-width",0.8));
  yt.forEach(v=>gg.append("line").attr("x1",L.x0).attr("x2",L.x1).attr("y1",y(v)).attr("y2",y(v)).attr("stroke","#e6e6e6").attr("stroke-width",0.8));
  eData[i].forEach(d=>gg.append("circle").attr("cx",x(d[0])).attr("cy",y(d[1])).attr("r",2.1).attr("fill","#45B1D3").attr("fill-opacity",0.58));
  const f=eFit[i];
  const band=d3.area().x(d=>x(d[0])).y0(d=>y(d[2])).y1(d=>y(d[3])).curve(d3.curveNatural);
  gg.append("path").attr("d",band(f)).attr("fill","#bdbdbd").attr("fill-opacity",0.45);
  const ln=d3.line().x(d=>x(d[0])).y(d=>y(d[1]));
  gg.append("path").attr("d",ln([f[0],f[f.length-1]])).attr("fill","none").attr("stroke","#3FAAD0").attr("stroke-width",0.8);
  g.append("rect").attr("x",L.x0).attr("y",L.y0).attr("width",L.x1-L.x0).attr("height",L.y1-L.y0).attr("fill","none").attr("stroke","#333").attr("stroke-width",1);
  const yf=d3.format("."+eYDigits[i]+"f");
  yt.forEach(v=>{
    g.append("line").attr("x1",L.x0-2.5).attr("x2",L.x0).attr("y1",y(v)).attr("y2",y(v)).attr("stroke","#333").attr("stroke-width",0.6);
    T(g,L.x0-3.8,y(v),yf(v),{size:7.3,anchor:"end",db:"central",fill:"#4d4d4d"});
  });
  xt.forEach(v=>{
    g.append("line").attr("x1",x(v)).attr("x2",x(v)).attr("y1",L.y1).attr("y2",L.y1+2.5).attr("stroke","#333").attr("stroke-width",0.6);
    T(g,x(v),L.y1+9.6,String(v),{size:7.3,anchor:"middle",db:"central",fill:"#4d4d4d"});
  });
  const mx=(L.x0+L.x1)/2;
  T(g,mx,L.y1+18.8,"The expression of "+eGenes[i],{size:8.1,anchor:"middle",db:"central",fill:"#111"});
  const t2=T(g,mx,L.y1+28.2,"",{size:8.1,anchor:"middle",db:"central",fill:"#111"}); log2(t2);
  T(g,L.tx,(L.y0+L.y1)/2,"Enrichment of "+eCells[i],{size:8.2,anchor:"middle",db:"central",rot:-90,fill:"#111"});
  const rx=L.x1-3;
  T(g,rx,L.y1-21,"Spearman",{size:7,anchor:"end",fill:"#111"});
  const tr=T(g,rx,L.y1-13.3,"",{size:7,anchor:"end",fill:"#111"});
  tr.append("tspan").attr("font-style","italic").text("R"); tr.append("tspan").text(" = "+eR[i]);
  const tp=T(g,rx,L.y1-5.3,"",{size:7,anchor:"end",fill:"#111"});
  tp.append("tspan").attr("font-style","italic").text("P"); tp.append("tspan").text(" "+eP[i]);
}
for(let i=0;i<eBox.length;i++) scatter(i);
</script></body></html>
